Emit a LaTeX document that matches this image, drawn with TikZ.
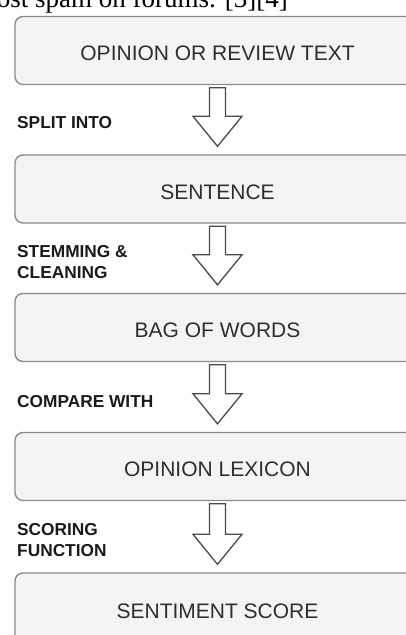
\documentclass[tikz,border=0pt]{standalone}
\usepackage{fontspec}
\setmainfont{Liberation Serif}
\newfontfamily\boxfont{Liberation Sans}
\usetikzlibrary{calc}
\definecolor{boxborder}{HTML}{8A8A8A}
\definecolor{boxfill}{HTML}{F4F4F4}
\definecolor{boxtext}{HTML}{2E2E2E}
\definecolor{labeltext}{HTML}{1A1A1A}
\definecolor{arrowline}{HTML}{4A4A4A}
\tikzset{
  stagebox/.style={draw=boxborder, fill=boxfill, line width=1.4pt, rounded corners=8pt,
    minimum width=405pt, minimum height=68pt, inner sep=0pt,
    font=\boxfont\fontsize{21}{25}\selectfont, text=boxtext,
    text height=20pt, text depth=0pt},
  steplabel/.style={anchor=west, inner sep=0pt, align=left,
    font=\boxfont\bfseries\fontsize{17.3}{21}\selectfont, text=labeltext},
  blockarrow/.style={draw=arrowline, fill=white, line width=1.3pt, line join=miter},
}
\newcommand{\flowarrow}[2]{%
  \draw[blockarrow] let \p1=(#1.south), \p2=(#2.north) in
    (\x1-8pt,\y1-2.5pt) -- (\x1-8pt,\y2+38pt) -- (\x1-24.5pt,\y2+38pt) --
    (\x1,\y2+8pt) -- (\x1+24.5pt,\y2+38pt) -- (\x1+8pt,\y2+38pt) --
    (\x1+8pt,\y1-2.5pt) -- cycle;}
\begin{document}
\begin{tikzpicture}[x=1pt,y=-1pt]
\useasboundingbox (0,0) rectangle (406,635);
\node[anchor=base east, inner sep=0pt, font=\fontsize{27}{32}\selectfont] (top) at (288,7) {most spam on forums. [3][4]};

\node[stagebox] (b1) at (217.5,50.5) {OPINION OR REVIEW TEXT};
\node[stagebox] (b2) at (217.5,189) {SENTENCE};
\node[stagebox] (b3) at (217.5,327.5) {BAG OF WORDS};
\node[stagebox, minimum height=70pt] (b5) at (217.5,608) {SENTIMENT SCORE};
\node[stagebox] (b4) at (217.5,466.5) {OPINION LEXICON};

\flowarrow{b1}{b2}
\flowarrow{b2}{b3}
\flowarrow{b3}{b4}
\flowarrow{b4}{b5}

\node[steplabel] (l1) at (17,123) {SPLIT INTO};
\node[steplabel] (l2) at (17,262.5) {STEMMING \&\\CLEANING};
\node[steplabel] (l3) at (17,402) {COMPARE WITH};
\node[steplabel] (l4) at (17,540.5) {SCORING\\FUNCTION};
\end{tikzpicture}
\end{document}
